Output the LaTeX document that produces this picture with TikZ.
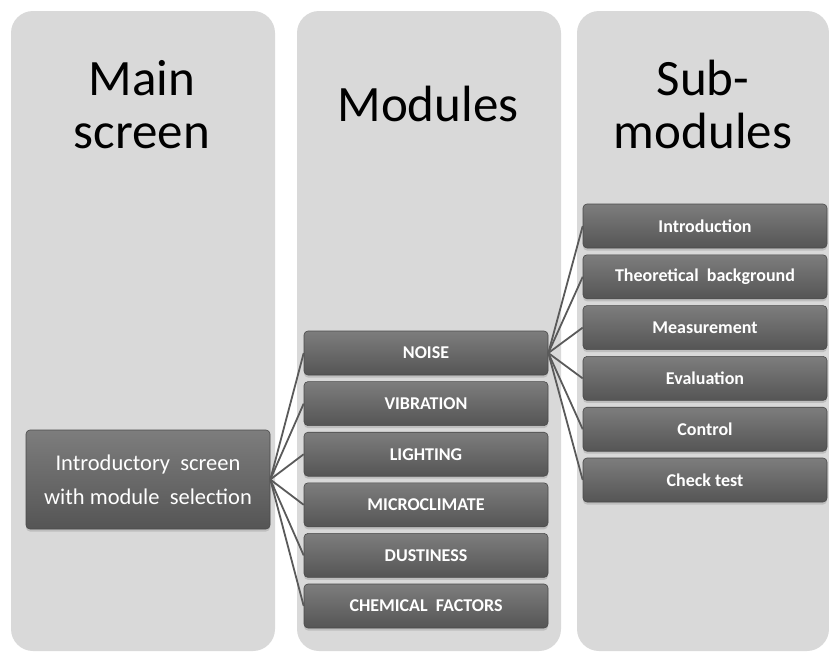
\documentclass[tikz,border=0pt]{standalone}
\usepackage{fontspec}
\setmainfont{Carlito}
\usepackage{xcolor}
\usetikzlibrary{positioning}
\usetikzlibrary{shadows}
\definecolor{panelgray}{HTML}{D9D9D9}
\definecolor{boxtop}{HTML}{7D7D7D}
\definecolor{boxbot}{HTML}{555555}
\definecolor{boxedge}{HTML}{4A4A4A}
\definecolor{linkgray}{HTML}{5A5A5A}

\begin{document}
\begin{tikzpicture}[x=1pt,y=-1pt,
		panel/.style={fill=panelgray, rounded corners=22pt},
		title/.style={font=\fontsize{51}{53}\selectfont, align=center, inner sep=0pt},
		modbox/.style={rectangle, rounded corners=4pt, draw=boxedge, line width=0.6pt,
			top color=boxtop, bottom color=boxbot, text=white,
			font=\fontsize{18}{20}\selectfont\bfseries,
			minimum width=244pt, minimum height=44pt, inner sep=2pt,
			drop shadow={shadow xshift=0pt, shadow yshift=-2.5pt, opacity=0.3}},
		link/.style={draw=linkgray, line width=1.8pt}]
	\useasboundingbox (0,0) rectangle (829,651);
	% draw panels
	\fill[panel] (11,11) rectangle (275,651);
	\fill[panel] (297,11) rectangle (561,651);
	\fill[panel] (577,11) rectangle (829,651);
	% column titles
	\node[title, anchor=base] (tmain) at (142,148) {Main\\screen};
	\node[title, anchor=base] (tmod) at (428,121) {Modules};
	\node[title, anchor=base] (tsub) at (703,148) {Sub-\\modules};
	% main screen
	\node[modbox, align=center, font=\fontsize{22.5}{34}\selectfont, minimum height=99pt]
		(intro) at (148,479.5) {Introductory\ \ screen\\with module\ \ selection};
	% modules
	\foreach \name/\txt [count=\i] in {noise/NOISE, vibration/VIBRATION, lighting/LIGHTING,
		microclimate/MICROCLIMATE, dustiness/DUSTINESS, chemical/CHEMICAL\ \ FACTORS}
		\node[modbox] (\name) at (426,{353+50.6*(\i-1)}) {\txt};
	% sub-modules
	\foreach \name/\txt [count=\i] in {introduction/Introduction, theory/Theoretical\ \ background,
		measurement/Measurement, evaluation/Evaluation, control/Control, checktest/Check test}
		\node[modbox] (\name) at (705,{226+50.8*(\i-1)}) {\txt};
	% connectors
	\foreach \name in {noise, vibration, lighting, microclimate, dustiness, chemical}
		\draw[link] (intro.east) -- (\name.west);
	\foreach \name in {introduction, theory, measurement, evaluation, control, checktest}
		\draw[link] (noise.east) -- (\name.west);
\end{tikzpicture}
\end{document}
